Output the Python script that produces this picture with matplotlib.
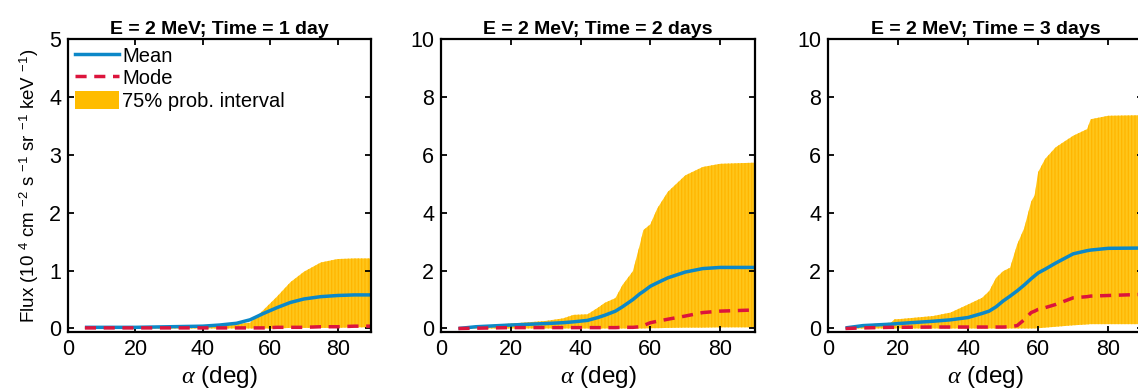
import matplotlib

matplotlib.use("Agg")
import matplotlib.pyplot as plt
from matplotlib.lines import Line2D
from matplotlib.patches import Patch

plt.rcParams["font.family"] = ["Liberation Sans", "DejaVu Sans"]
plt.rcParams["mathtext.fontset"] = "custom"
plt.rcParams["mathtext.rm"] = "Liberation Sans"
plt.rcParams["mathtext.it"] = "Liberation Serif:italic"
plt.rcParams["hatch.linewidth"] = 0.9

# ---- data (alpha in deg, flux in 1e4 units) ----
TITLES = [
    "E = 2 MeV; Time = 1 day",
    "E = 2 MeV; Time = 2 days",
    "E = 2 MeV; Time = 3 days",
]
YMAX = [5, 10, 10]
YTICKS = [[0, 1, 2, 3, 4, 5], [0, 2, 4, 6, 8, 10], [0, 2, 4, 6, 8, 10]]

alpha_1 = [5, 10, 20, 30, 40, 45, 50, 54, 58, 62, 66, 70, 75, 80, 85, 90]
mean_1 = [0.02, 0.02, 0.02, 0.03, 0.04, 0.06, 0.09, 0.15, 0.26, 0.36, 0.45, 0.51, 0.55, 0.57, 0.58, 0.58]
mode_1 = [0.01, 0.01, 0.01, 0.01, 0.01, 0.01, 0.01, 0.01, 0.01, 0.02, 0.02, 0.02, 0.03, 0.03, 0.04, 0.04]
upper_1 = [0.02, 0.02, 0.03, 0.04, 0.05, 0.06, 0.08, 0.10, 0.32, 0.55, 0.80, 0.98, 1.14, 1.20, 1.21, 1.21]
lower_1 = [0.00, 0.00, 0.00, 0.00, 0.00, 0.00, 0.00, 0.00, 0.00, 0.00, 0.01, 0.01, 0.01, 0.01, 0.02, 0.02]

alpha_2 = [5, 10, 20, 30, 35, 38, 42, 45, 47, 50, 52, 55, 57, 58, 60, 62, 65, 70, 75, 80, 90]
mean_2 = [0.0, 0.06, 0.12, 0.17, 0.20, 0.23, 0.28, 0.38, 0.46, 0.60, 0.75, 1.00, 1.20, 1.28, 1.46, 1.58, 1.75, 1.95, 2.07, 2.11, 2.11]
mode_2 = [0.0, 0.01, 0.03, 0.03, 0.03, 0.03, 0.03, 0.03, 0.03, 0.03, 0.04, 0.04, 0.06, 0.10, 0.20, 0.25, 0.32, 0.43, 0.55, 0.60, 0.64]
upper_2 = [0.03, 0.08, 0.17, 0.26, 0.35, 0.47, 0.49, 0.72, 0.89, 1.05, 1.50, 1.98, 2.90, 3.40, 3.60, 4.15, 4.72, 5.29, 5.58, 5.69, 5.73]
lower_2 = [0.0, 0.0, 0.0, 0.0, 0.0, 0.0, 0.0, 0.0, 0.0, 0.0, 0.0, 0.0, 0.0, 0.0, 0.01, 0.01, 0.02, 0.03, 0.03, 0.04, 0.04]

alpha_3 = [5, 10, 18, 19, 20, 30, 35, 40, 44, 46, 48, 50, 52, 54, 56, 58, 59, 60, 62, 65, 70, 74, 75, 80, 90]
mean_3 = [0.02, 0.10, 0.15, 0.16, 0.17, 0.25, 0.30, 0.38, 0.52, 0.60, 0.75, 0.95, 1.12, 1.30, 1.50, 1.72, 1.82, 1.92, 2.05, 2.26, 2.58, 2.69, 2.71, 2.77, 2.78]
mode_3 = [0.0, 0.02, 0.04, 0.04, 0.04, 0.05, 0.05, 0.05, 0.05, 0.05, 0.05, 0.05, 0.06, 0.10, 0.30, 0.55, 0.60, 0.66, 0.72, 0.83, 1.06, 1.10, 1.12, 1.14, 1.18]
upper_3 = [0.02, 0.13, 0.20, 0.32, 0.32, 0.43, 0.55, 0.83, 1.06, 1.29, 1.75, 1.98, 2.10, 2.90, 3.46, 4.38, 4.60, 5.40, 5.86, 6.26, 6.66, 6.89, 7.23, 7.35, 7.37]
lower_3 = [0.0, 0.0, 0.0, 0.0, 0.0, 0.0, 0.0, 0.0, 0.0, 0.0, 0.0, 0.0, 0.0, 0.0, 0.0, 0.0, 0.0, 0.01, 0.03, 0.06, 0.11, 0.14, 0.15, 0.15, 0.15]

PANELS = [
    (alpha_1, mean_1, mode_1, upper_1, lower_1),
    (alpha_2, mean_2, mode_2, upper_2, lower_2),
    (alpha_3, mean_3, mode_3, upper_3, lower_3),
]

BLUE = "#0C88C8"
RED = "#DC143C"
BAND = "#FFC61A"
BAND_STRIPE = "#FFB600"
DASH = (0, (3.2, 2.2))

# axes boxes in figure fractions (third panel runs off the right edge)
AX_POS = [
    [0.0598, 0.151, 0.2665, 0.749],
    [0.3875, 0.151, 0.2760, 0.749],
    [0.7276, 0.151, 0.2770, 0.749],
]

fig = plt.figure(figsize=(11.38, 3.91), dpi=100)

for i, (alpha, mean, mode, upper, lower) in enumerate(PANELS):
    ax = fig.add_axes(AX_POS[i])
    ax.fill_between(alpha, lower, upper, facecolor=BAND, edgecolor=BAND_STRIPE,
                    hatch="|||||", linewidth=0)
    ax.plot(alpha, mean, color=BLUE, linewidth=2.5, solid_capstyle="butt")
    ax.plot(alpha, mode, color=RED, linewidth=2.5, linestyle=DASH)

    ymax = YMAX[i]
    ax.set_xlim(0, 90)
    ax.set_ylim(-0.012 * ymax, ymax)
    ax.set_xticks([0, 20, 40, 60, 80])
    ax.set_yticks(YTICKS[i])
    ax.tick_params(direction="in", length=4, width=1.3, labelsize=15.5,
                   top=True, right=True, pad=5)
    for sp in ax.spines.values():
        sp.set_linewidth(1.6)
    ax.set_title(TITLES[i], fontsize=14, fontweight="bold", pad=4)
    ax.set_xlabel(r"$\alpha$ (deg)", fontsize=17.5, labelpad=3)

    if i == 0:
        ax.set_ylabel(r"Flux (10 $^{4}$ cm $^{-2}$ s $^{-1}$ sr $^{-1}$ keV $^{-1}$)",
                      fontsize=13.5, labelpad=6)
        handles = [
            Line2D([], [], color=BLUE, linewidth=2.5),
            Line2D([], [], color=RED, linewidth=2.5, linestyle=DASH),
            Patch(facecolor="#FFBC00", edgecolor="none"),
        ]
        ax.legend(handles, ["Mean", "Mode", "75% prob. interval"], loc="upper left",
                  frameon=False, fontsize=14.5, handlelength=2.2, handleheight=1.0,
                  handletextpad=0.15, labelspacing=0.12, borderaxespad=0.15,
                  borderpad=0.2)

fig.savefig("out.png", dpi=100)
